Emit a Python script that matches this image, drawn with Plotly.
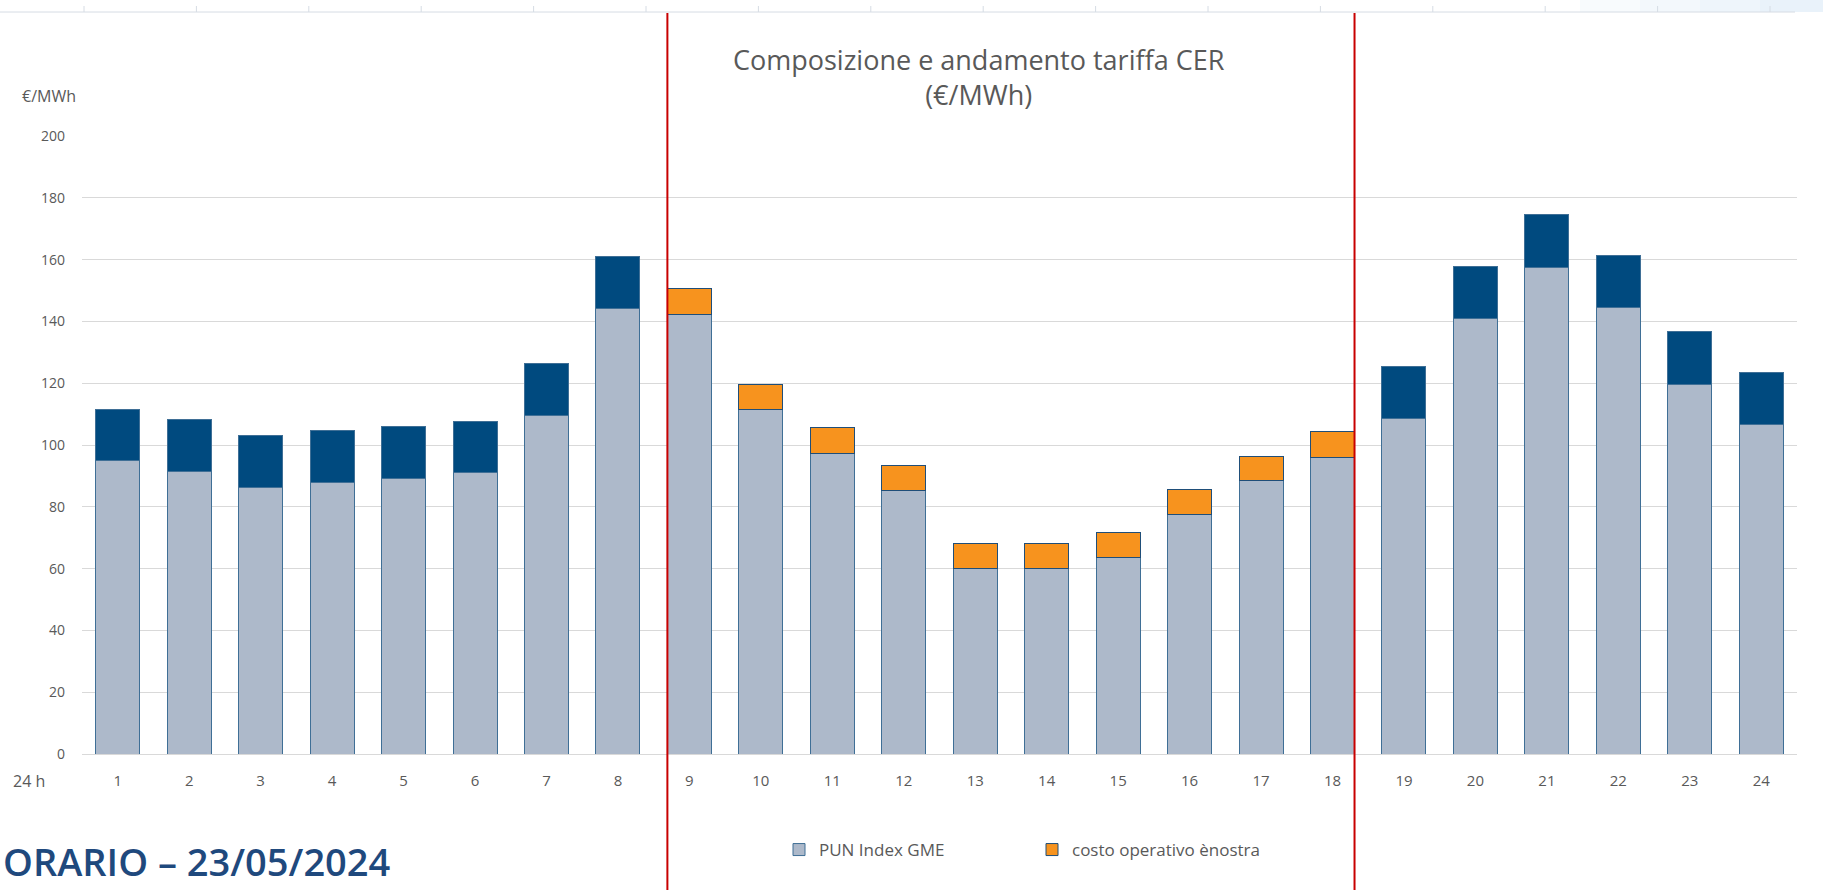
import plotly.graph_objects as go

# ---------------- data ----------------
hours = list(range(1, 25))
hour_labels = [str(h) for h in hours]
pun_index_gme = [94.9, 91.4, 86.2, 88.0, 89.3, 91.0, 109.6, 144.1,
                 142.3, 111.5, 97.4, 85.3, 60.0, 60.0, 63.7, 77.4, 88.4, 96.1,
                 108.5, 141.1, 157.6, 144.4, 119.7, 106.6]
costo_operativo = [16.7, 16.8, 16.8, 16.8, 16.7, 16.7, 16.7, 16.8,
                   8.2, 8.1, 8.2, 8.2, 8.2, 8.2, 8.1, 8.3, 8.0, 8.2,
                   16.8, 16.8, 16.9, 17.0, 16.9, 16.9]
solar_hours = list(range(9, 19))   # hours shown in orange, framed by red lines
y_ticks = [0, 20, 40, 60, 80, 100, 120, 140, 160, 180, 200]

# ---------------- styles ----------------
PUN_COLOR = "#ADB9CA"
DARK_BLUE = "#004A7F"
ORANGE = "#F7931E"
EDGE = "#3F6F96"
GRID = "#D9D9D9"
TXT = "#595959"
RED = "#C80000"
FONT = "Open Sans"
BAR_W = 0.616

W, H = 1823, 890
ML, MR, MT, MB = 82, 26, 136, 136
PW, PH = W - ML - MR, H - MT - MB


def px_x(px):
    return (px - ML) / PW


def px_y(py):
    return (H - MB - py) / PH


cost_dark = [None if h in solar_hours else c for h, c in zip(hours, costo_operativo)]
cost_orange = [c if h in solar_hours else None for h, c in zip(hours, costo_operativo)]

fig = go.Figure()
fig.add_trace(go.Bar(x=hours, y=pun_index_gme, width=BAR_W, name="PUN Index GME",
                     marker=dict(color=PUN_COLOR, line=dict(color=EDGE, width=1))))
fig.add_trace(go.Bar(x=hours, y=cost_orange, width=BAR_W, name="costo operativo ènostra",
                     legendgroup="costo",
                     marker=dict(color=ORANGE, line=dict(color="#1F4E79", width=1))))
fig.add_trace(go.Bar(x=hours, y=cost_dark, width=BAR_W, name="costo operativo ènostra",
                     legendgroup="costo", showlegend=False,
                     marker=dict(color=DARK_BLUE, line=dict(color=EDGE, width=1))))

shapes = []
# red separators at the outer edges of the orange group
for xv in (min(solar_hours) - BAR_W / 2, max(solar_hours) + BAR_W / 2):
    shapes.append(dict(type="line", xref="x", yref="paper", x0=xv, x1=xv,
                       y0=px_y(H + 5), y1=px_y(13), line=dict(color=RED, width=2)))
# faint bluish fade in the top-right corner
for i, c in enumerate(["#F8FBFD", "#F3F8FC", "#EEF5FB", "#E9F2FA"]):
    shapes.append(dict(type="rect", xref="paper", yref="paper", x0=px_x(1580 + 60 * i), x1=px_x(W + 5),
                       y0=px_y(12), y1=px_y(-2), fillcolor=c, line=dict(width=0), layer="below"))
# decorative top ruler line with ticks
shapes.append(dict(type="line", xref="paper", yref="paper", x0=px_x(0), x1=px_x(1795),
                   y0=px_y(12), y1=px_y(12), line=dict(color="#D6DCE4", width=1)))
for k in range(16):
    xx = px_x(84 + 112.4 * k)
    shapes.append(dict(type="line", xref="paper", yref="paper", x0=xx, x1=xx,
                       y0=px_y(12), y1=px_y(6), line=dict(color="#D6DCE4", width=1)))

annotations = [
    dict(text="Composizione e andamento tariffa CER<br>(€/MWh)", xref="paper", yref="paper",
         x=px_x(979), y=px_y(77), xanchor="center", yanchor="middle", showarrow=False,
         font=dict(family=FONT, size=27, color=TXT)),
    dict(text="€/MWh", xref="paper", yref="paper", x=px_x(49), y=px_y(96),
         xanchor="center", yanchor="middle",
         showarrow=False, font=dict(family=FONT, size=16, color=TXT)),
    dict(text="24 h", xref="paper", yref="paper", x=px_x(29), y=px_y(781),
         xanchor="center", yanchor="middle",
         showarrow=False, font=dict(family=FONT, size=16, color=TXT)),
    dict(text="ORARIO – 23/05/2024", xref="paper", yref="paper", x=px_x(2), y=px_y(861),
         xanchor="left", yanchor="middle", showarrow=False, borderpad=0,
         font=dict(family=FONT, size=38, color="#1F497D", weight=600)),
]

fig.update_layout(
    width=W, height=H, barmode="stack",
    margin=dict(l=ML, r=MR, t=MT, b=MB),
    paper_bgcolor="white", plot_bgcolor="white",
    xaxis=dict(range=[0.5, 24.5], tickmode="array", tickvals=hours, ticktext=hour_labels,
               showgrid=False, showline=False, zeroline=False, ticks="",
               tickfont=dict(family=FONT, size=15, color=TXT), ticklabelstandoff=16),
    yaxis=dict(range=[0, 200], tickmode="array", tickvals=y_ticks, showgrid=True,
               gridcolor=GRID, gridwidth=1, zeroline=True, zerolinecolor=GRID, zerolinewidth=1,
               showline=False, ticks="", tickfont=dict(family=FONT, size=14, color=TXT),
               ticklabelstandoff=16),
    legend=dict(orientation="h", x=px_x(779), y=px_y(850), xanchor="left", yanchor="middle",
                traceorder="normal", font=dict(family=FONT, size=17, color=TXT),
                entrywidth=208, entrywidthmode="pixels", itemwidth=30, bgcolor="rgba(0,0,0,0)"),
    shapes=shapes, annotations=annotations, showlegend=True,
)

fig.write_html("out.html", post_script="document.body.style.margin='0';",
               config={"displayModeBar": False})
